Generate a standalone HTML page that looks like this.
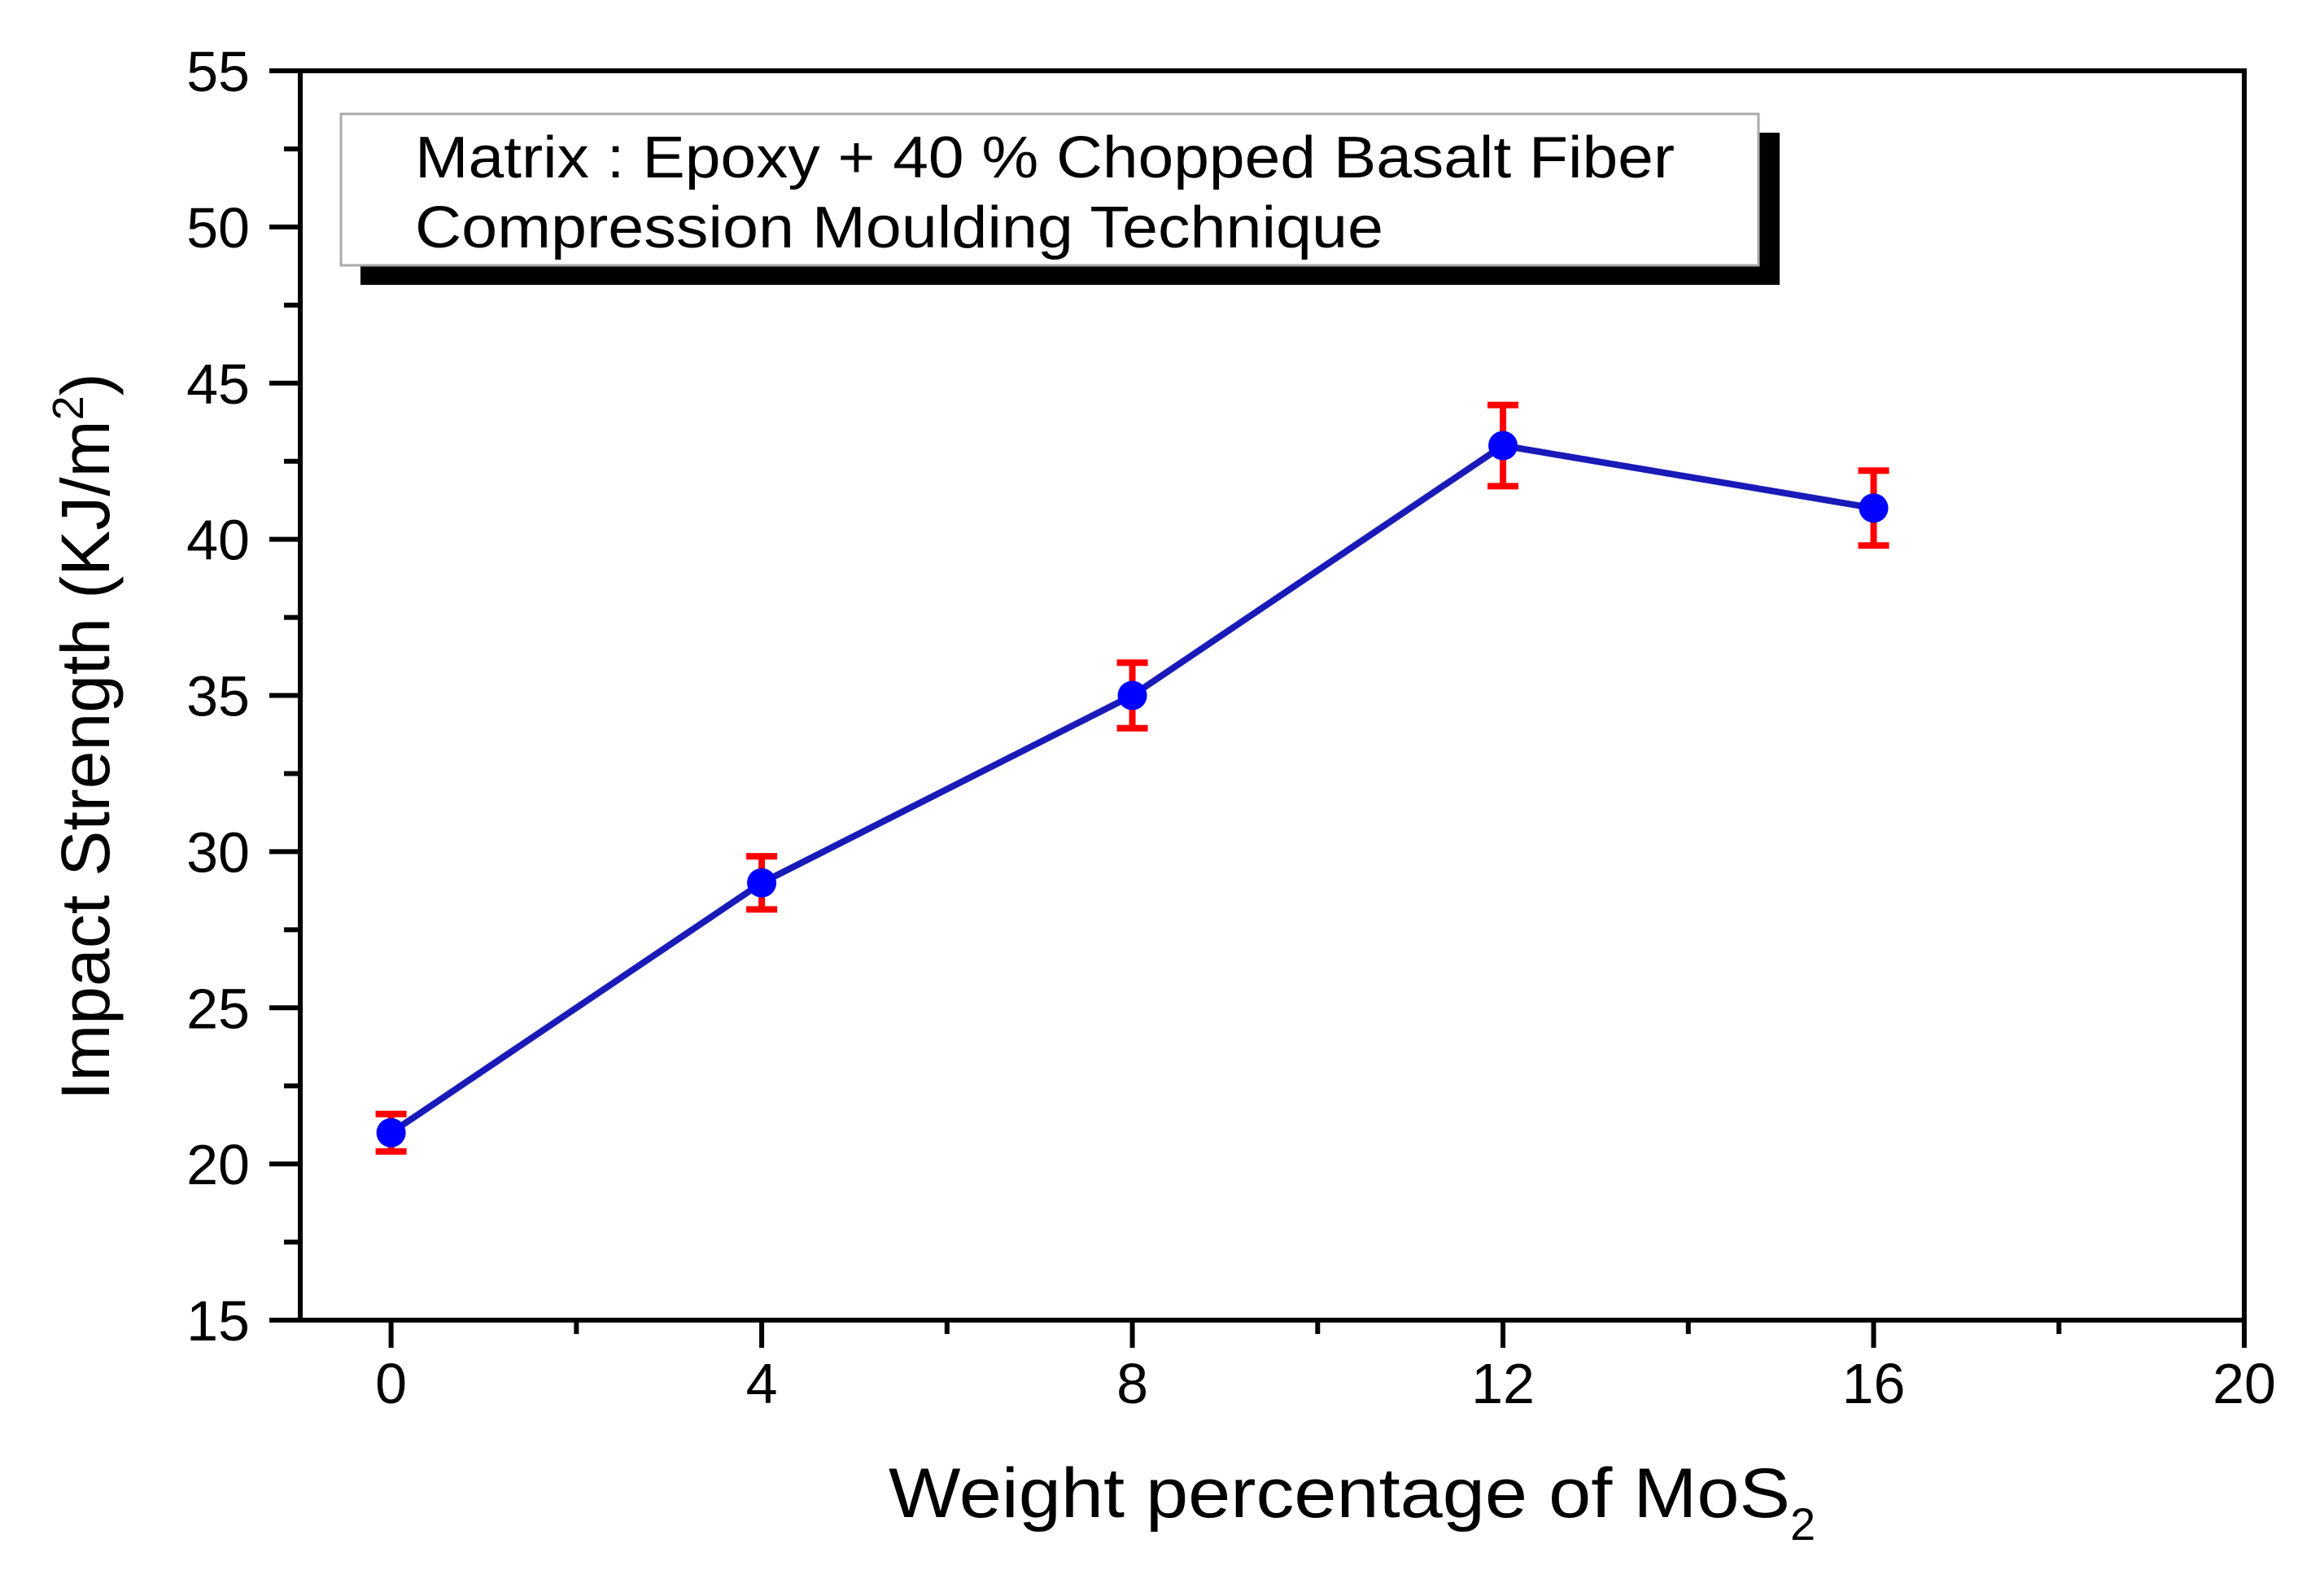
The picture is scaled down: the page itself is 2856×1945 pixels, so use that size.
<!DOCTYPE html>
<html><head><meta charset="utf-8"><style>
html,body{margin:0;padding:0;background:#fff;}
svg{display:block;}
text{font-family:"Liberation Sans",Arial,sans-serif;fill:#000;}
</style></head><body>
<svg id="chart" width="2856" height="1945" viewBox="0 0 2856 1945" xmlns="http://www.w3.org/2000/svg">
<g id="axes"></g>
<g id="marks"></g>
<g>
<rect x="443" y="163" width="1744" height="187" fill="#000"/>
<rect x="419" y="140" width="1742" height="186" fill="#fff" stroke="#aaa" stroke-width="3"/>
<text x="510" y="218" font-size="72" textLength="1548" lengthAdjust="spacingAndGlyphs">Matrix : Epoxy + 40 % Chopped Basalt Fiber</text>
<text x="510" y="304" font-size="72" textLength="1190" lengthAdjust="spacingAndGlyphs">Compression Moulding Technique</text>
</g>
<text x="1092" y="1864" font-size="86"><tspan textLength="1108" lengthAdjust="spacingAndGlyphs">Weight percentage of MoS</tspan><tspan font-size="56" dy="28">2</tspan></text>
<text transform="translate(134,1352) rotate(-90)" font-size="84">Impact Strength (KJ/m<tspan font-size="54" dy="-32">2</tspan><tspan dy="32">)</tspan></text>
</svg>
<script>
const categories = [0, 4, 8, 12, 16];
const values = [21, 29, 35, 43, 41];
const errors = [0.6, 0.85, 1.05, 1.3, 1.2];
const xTicks = [0, 4, 8, 12, 16, 20];
const yTicks = [15, 20, 25, 30, 35, 40, 45, 50, 55];

const L = 369, R = 2758, T = 87, B = 1622;
const xMin = -0.98, xMax = 20, yMin = 15, yMax = 55;
const X = v => L + (v - xMin) / (xMax - xMin) * (R - L);
const Y = v => B - (v - yMin) / (yMax - yMin) * (B - T);
const NS = 'http://www.w3.org/2000/svg';
function mk(tag, attrs, parent) {
  const e = document.createElementNS(NS, tag);
  for (const k in attrs) e.setAttribute(k, attrs[k]);
  parent.appendChild(e);
  return e;
}
const axes = document.getElementById('axes');
const marks = document.getElementById('marks');

const frame = mk('rect', {x: L, y: T, width: R - L, height: B - T, fill: 'none', stroke: '#000', 'stroke-width': 6}, axes);



for (let v = 0; v <= 20; v += 2) {
  const major = xTicks.includes(v);
  const t = mk('line', {x1: X(v), x2: X(v), y1: B, y2: B + (major ? 34 : 17), stroke: '#000', 'stroke-width': 6}, axes);
  
  
}
xTicks.forEach(v => {
  const t = mk('text', {x: X(v), y: 1724, 'font-size': 70, 'text-anchor': 'middle'}, axes);
  t.textContent = v;
  
  
});
for (let v = 15; v <= 55; v += 2.5) {
  const major = v % 5 === 0;
  const t = mk('line', {x1: L - (major ? 38 : 20), x2: L, y1: Y(v), y2: Y(v), stroke: '#000', 'stroke-width': 6}, axes);
  
  
}
yTicks.forEach(v => {
  const t = mk('text', {x: 307, y: Y(v) + 25, 'font-size': 70, 'text-anchor': 'end'}, axes);
  t.textContent = v;
  
  
});

const pts = categories.map((c, i) => X(c) + ',' + Y(values[i])).join(' ');
const line = mk('polyline', {points: pts, fill: 'none', stroke: '#1a1ab8', 'stroke-width': 8}, marks);



categories.forEach((c, i) => {
  const x = X(c), y1 = Y(values[i] + errors[i]), y2 = Y(values[i] - errors[i]);
  const g = mk('g', {stroke: '#ff0000', 'stroke-width': 8}, marks);
  
  
  mk('line', {x1: x, x2: x, y1: y1, y2: y2}, g);
  mk('line', {x1: x - 19, x2: x + 19, y1: y1, y2: y1}, g);
  mk('line', {x1: x - 19, x2: x + 19, y1: y2, y2: y2}, g);
});
categories.forEach((c, i) => {
  const p = mk('circle', {cx: X(c), cy: Y(values[i]), r: 18, fill: '#0000ff'}, marks);
  
  
});
</script>
</body></html>
